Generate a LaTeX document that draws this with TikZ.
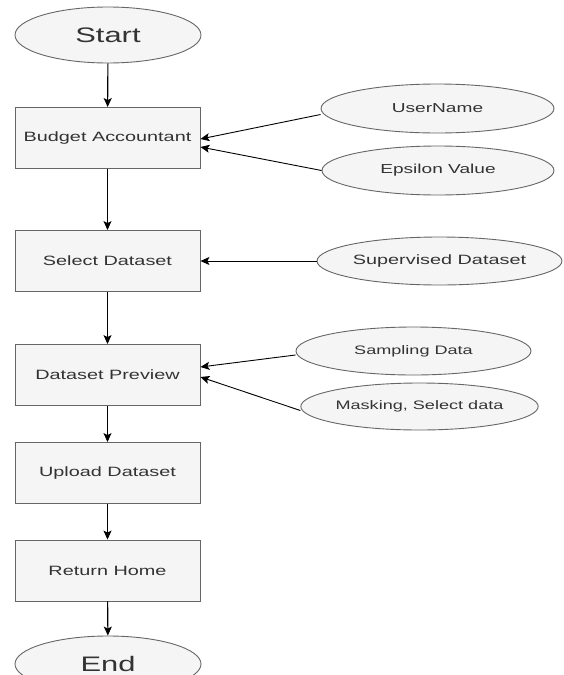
\documentclass[tikz,border=0pt]{standalone}
\usepackage{fontspec}
\usetikzlibrary{shapes.geometric,arrows.meta}
\newfontfamily\wf[FakeStretch=1.47]{Liberation Sans}
\definecolor{fillg}{HTML}{F5F5F5}
\definecolor{strokeg}{HTML}{666666}
\definecolor{textg}{HTML}{333333}
\tikzset{
  stepbox/.style={draw=strokeg, fill=fillg, line width=0.9pt, minimum width=185pt, minimum height=61pt, inner sep=0pt, text=textg, font=\wf\fontsize{13.5}{16}\selectfont},
  termnode/.style={ellipse, draw=strokeg, fill=fillg, line width=0.9pt, minimum width=186pt, minimum height=56pt, inner sep=0pt, text=textg, font=\wf\fontsize{21}{24}\selectfont},
  inputnode/.style={ellipse, draw=strokeg, fill=fillg, line width=0.9pt, inner sep=0pt, text=textg},
  flow/.style={draw=black, line width=1.1pt, -{Stealth[length=9pt,width=8pt,inset=2pt]}},
  feed/.style={draw=black, line width=0.9pt, -{Stealth[length=9pt,width=8pt,inset=2pt]}}
}
\begin{document}
\begin{tikzpicture}[x=1pt,y=-1pt]
\useasboundingbox (0,0) rectangle (563,675);
\clip (0,0) rectangle (563,675);
\fill[white] (0,0) rectangle (563,675);
\node[termnode] (start) at (108,35) {Start};
\node[stepbox] (budget) at (107.5,138) {Budget Accountant};
\node[stepbox] (select) at (107.5,261) {Select Dataset};
\node[stepbox] (preview) at (107.5,375) {Dataset Preview};
\node[stepbox] (upload) at (107.5,473) {Upload Dataset};
\node[stepbox] (home) at (107.5,570.5) {Return Home};
\node[termnode] (end) at (108,664) {End};

\node[inputnode, minimum width=233pt, minimum height=49pt, font=\wf\fontsize{13}{16}\selectfont] (user) at (437.5,108.5) {UserName};
\node[inputnode, minimum width=232pt, minimum height=49pt, font=\wf\fontsize{13}{16}\selectfont] (eps) at (438,170.5) {Epsilon Value};
\node[inputnode, minimum width=243pt, minimum height=48pt, font=\wf\fontsize{13.5}{16}\selectfont] (sup) at (439.5,261) {Supervised Dataset};
\node[inputnode, minimum width=235pt, minimum height=48pt, font=\wf\fontsize{12.3}{15}\selectfont] (samp) at (413.5,351) {Sampling Data};
\node[inputnode, minimum width=235pt, minimum height=47pt, font=\wf\fontsize{12.3}{15}\selectfont] (mask) at (419.5,406.5) {Masking, Select data};

\draw[flow] (start) -- (budget);
\draw[flow] (budget) -- (select);
\draw[flow] (select) -- (preview);
\draw[flow] (preview) -- (upload);
\draw[flow] (upload) -- (home);
\draw[flow] (home) -- (end);

\draw[feed] ([yshift=-6pt]user.west) -- ([yshift=-1pt]budget.east);
\draw[feed] (eps.west) -- ([yshift=-9pt]budget.east);
\draw[feed] (sup.west) -- (select.east);
\draw[feed] ([yshift=-4pt]samp.west) -- ([yshift=8pt]preview.east);
\draw[feed] ([yshift=-4pt]mask.west) -- ([yshift=-2pt]preview.east);
\end{tikzpicture}
\end{document}
